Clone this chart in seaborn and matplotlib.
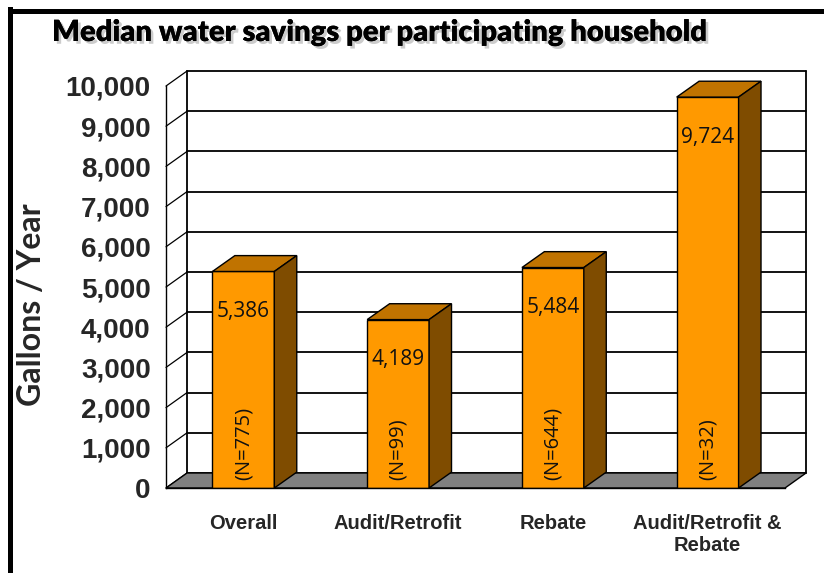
import matplotlib
matplotlib.use("Agg")
import matplotlib.pyplot as plt
import matplotlib.patheffects as pe
from matplotlib.patches import Polygon
import seaborn as sns

programs = ["Overall", "Audit/Retrofit", "Rebate", "Audit/Retrofit &\nRebate"]
savings = [5386, 4189, 5484, 9724]
counts = [775, 99, 644, 32]
yticks = list(range(0, 10001, 1000))

front = "#FF9900"
top_col = "#C07300"
side_col = "#7F4C00"
floor_col = "#808080"

sns.set_style("white")
plt.rcParams["font.family"] = ["Liberation Sans", "DejaVu Sans"]

fig = plt.figure(figsize=(8.24, 5.73), dpi=100)
W, H = 824, 573
ax = fig.add_axes([166 / W, (H - 488) / H, (785 - 166) / W, 402 / H])

# depth of the fake 3d (data units)
wdx, wdy = 0.136, 373
bdx, bdy = 0.145, 395

sns.barplot(x=programs, y=savings, color=front, width=0.4, saturation=1,
            edgecolor="black", linewidth=1, ax=ax, zorder=4)
ax.set_xlim(-0.5, 3.5)
ax.set_ylim(0, 10000)

# back wall grid + diagonals
x0, x1 = -0.5, 3.5
for v in yticks:
    ax.plot([x0 + wdx, x1 + wdx], [v + wdy, v + wdy], color="black", lw=1.3,
            clip_on=False, zorder=1)
    ax.plot([x0, x0 + wdx], [v, v + wdy], color="black", lw=0.9,
            clip_on=False, zorder=1)
for xx in (x0 + wdx, x1 + wdx):
    ax.plot([xx, xx], [wdy, 10000 + wdy], color="black", lw=1.3,
            clip_on=False, zorder=1)

# floor
ax.add_patch(Polygon([(x0, 0), (x1, 0), (x1 + wdx, wdy), (x0 + wdx, wdy)],
                     closed=True, facecolor=floor_col, edgecolor="black",
                     lw=1, clip_on=False, zorder=2))

# top and side faces for each bar
for p, val, n in zip(ax.patches, savings, counts):
    xl = p.get_x()
    xr = xl + p.get_width()
    h = p.get_height()
    ax.add_patch(Polygon([(xl, h), (xr, h), (xr + bdx, h + bdy), (xl + bdx, h + bdy)],
                         closed=True, facecolor=top_col, edgecolor="black",
                         lw=1, clip_on=False, zorder=4))
    ax.add_patch(Polygon([(xr, 0), (xr + bdx, bdy), (xr + bdx, h + bdy), (xr, h)],
                         closed=True, facecolor=side_col, edgecolor="black",
                         lw=1, clip_on=False, zorder=4))
    cx = xl + p.get_width() / 2
    ax.annotate(f"{val:,}", (cx, h), xytext=(0, -29), textcoords="offset points",
                ha="center", va="center", fontsize=15, family="Open Sans",
                color="#111111", zorder=6)
    ax.annotate(f"(N={n})", (cx, 0), xytext=(0, 6), textcoords="offset points",
                ha="center", va="bottom", rotation=90, fontsize=14.5,
                family="Open Sans", color="#111111", zorder=6)

for s in ("top", "right"):
    ax.spines[s].set_visible(False)
for s in ("left", "bottom"):
    ax.spines[s].set_color("black")
    ax.spines[s].set_linewidth(1)
    ax.spines[s].set_zorder(5)

ax.set_yticks(yticks)
ax.set_yticklabels([f"{v:,}" for v in yticks], fontsize=20, fontweight="bold")
ax.tick_params(axis="y", direction="out", length=5, width=1, pad=6, color="black")

ax.set_xticks([-0.5, 0.5, 1.5, 2.5, 3.5])
ax.set_xticklabels([])
ax.tick_params(axis="x", which="major", direction="out", length=7, width=1, color="black")
ax.set_xticks(range(len(programs)), minor=True)
ax.set_xticklabels(programs, minor=True, fontsize=14.5, fontweight="bold")
ax.tick_params(axis="x", which="minor", length=0, pad=19)
ax.set_xlabel("")

ax.set_ylabel("Gallons / Year", fontsize=23, fontweight="bold", family="Lato")
ax.yaxis.set_label_coords(-(166 - 46) / (785 - 166), (488 - 305) / 402)

fig.text(52 / W, 1 - 33 / H, "Median water savings per participating household",
         fontsize=21, fontweight="heavy", family="Lato", va="center", ha="left",
         color="black",
         path_effects=[pe.withSimplePatchShadow(offset=(2, -2), shadow_rgbFace="gray", alpha=0.4),
                       pe.Normal()])

# outer frame (left and top edges)
fig.add_artist(plt.Line2D([10 / W, 10 / W], [0, 1 - 9 / H], transform=fig.transFigure,
                          color="black", lw=3.6, solid_capstyle="projecting"))
fig.add_artist(plt.Line2D([10 / W, 1], [1 - 11 / H, 1 - 11 / H], transform=fig.transFigure,
                          color="black", lw=3.6, solid_capstyle="projecting"))

fig.savefig("out.png", dpi=100)
